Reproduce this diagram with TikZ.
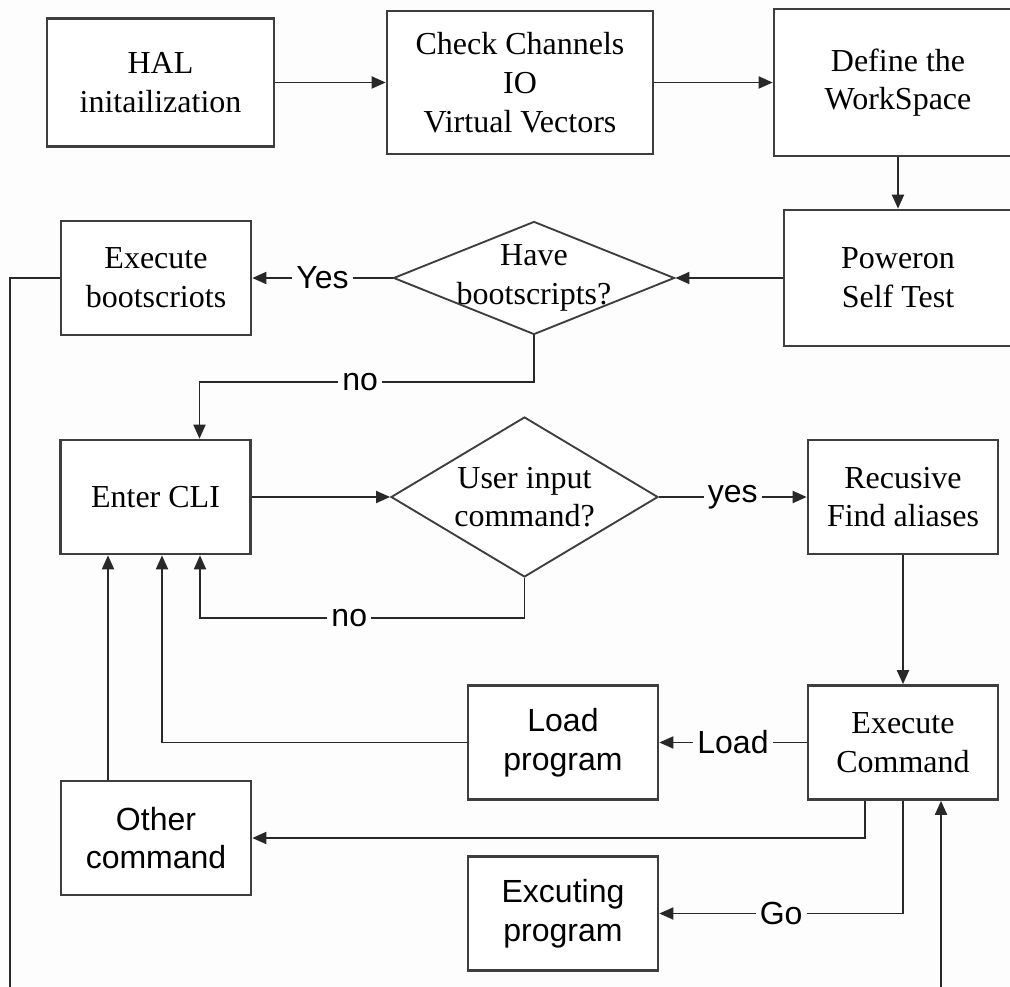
\documentclass[tikz,border=0pt]{standalone}
\usepackage{fontspec}
\setmainfont{Liberation Serif}
\setsansfont{Liberation Sans}
\usetikzlibrary{positioning, arrows.meta, shapes.geometric, calc}
\definecolor{boxline}{RGB}{62,62,62}
\definecolor{flowline}{RGB}{40,40,40}
\definecolor{paper}{RGB}{253,253,253}

\begin{document}
\begin{tikzpicture}[x=0.75pt, y=-0.75pt,
    blk/.style={draw=boxline, line width=2pt, fill=white, align=center,
                inner sep=0pt, font=\fontsize{24}{29}\selectfont},
    sblk/.style={blk, font=\sffamily\fontsize{24}{29}\selectfont},
    cell/.style={minimum width=142.5pt, minimum height=85.5pt},
    decision/.style={draw=boxline, line width=1.4pt, shape=diamond,
                     inner sep=0pt, fill=white},
    qtxt/.style={align=center, inner sep=0pt, font=\fontsize{24}{29}\selectfont},
    flow/.style={draw=flowline, line width=1.4pt,
                 -{Triangle[length=10.5pt, width=9pt]}},
    lbl/.style={fill=paper, inner xsep=3pt, inner ysep=0pt,
                font=\sffamily\fontsize{24}{29}\selectfont}]
        \path[use as bounding box, fill=paper] (0,0) rectangle (1010,987);
        % start-up chain
        \node[blk, minimum width=170.25pt, minimum height=96pt] (hal) at (160.5,82.5) {HAL\\initailization};
        \node[blk, minimum width=199.5pt, minimum height=107.25pt] (chk) at (520,82.5) {Check Channels\\IO\\Virtual Vectors};
        \node[blk, minimum width=186pt, minimum height=110.25pt] (def) at (898,82.5) {Define the\\WorkSpace};
        \node[blk, minimum width=171pt, minimum height=102pt] (pwr) at (898,278) {Poweron\\Self Test};
        \node[decision, minimum width=210.75pt, minimum height=84.75pt] (have) at (534,278) {};
        \node[qtxt] (haveq) at (have) {Have\\bootscripts?};
        \node[blk, cell] (boot) at (156,278) {Execute\\bootscriots};
        % command line loop
        \node[blk, cell] (cli) at (155.5,497) {Enter CLI};
        \node[decision, minimum width=200.25pt, minimum height=120pt] (usr) at (524.5,497) {};
        \node[qtxt] (usrq) at (usr) {User input\\command?};
        \node[blk, cell] (rec) at (903,497) {Recusive\\Find aliases};
        \node[blk, cell] (exe) at (903,742.5) {Execute\\Command};
        \node[sblk, cell] (load) at (563,742.5) {Load\\program};
        \node[sblk, cell] (other) at (156,838) {Other\\command};
        \node[sblk, cell] (run) at (563,913.5) {Excuting\\program};
        \coordinate (othUp) at ($(other.north)+(-48,0)$);
        \coordinate (loopL) at (10,995);
        \coordinate (loopR) at (941,995);

        \draw[flow] (hal.east) -- (chk.west);
        \draw[flow] (chk.east) -- (def.west);
        \draw[flow] (def.south) -- (pwr.north);
        \draw[flow] (pwr.west) -- (have.east);
        \draw[flow] (have.west) -- node[lbl]{Yes} (boot.east);
        \draw[flow] (have.south) -- ++(0,47) -| node[lbl, pos=0.26]{no} ($(cli.north)+(44,0)$);
        \draw[flow] (cli.east) -- (usr.west);
        \draw[flow] (usr.east) -- node[lbl]{yes} (rec.west);
        \draw[flow] (usr.south) -- ++(0,40) -| node[lbl, pos=0.27]{no} ($(cli.south)+(44.5,0)$);
        \draw[flow] (rec.south) -- (exe.north);
        \draw[flow] (exe.west) -- node[lbl]{Load} (load.east);
        \draw[flow] (load.west) -| ($(cli.south)+(6.5,0)$);
        \draw[flow] (othUp) -- (othUp |- cli.south);
        \draw[flow] ($(exe.south)+(-38,0)$) |- (other.east);
        \draw[flow] (exe.south) |- node[lbl, pos=0.75]{Go} (run.east);
        % boot scripts go round the bottom back to the executor
        \draw[flow] (boot.west) -| (loopL) -- (loopR) -- ($(exe.south)+(38,0)$);
\end{tikzpicture}
\end{document}
